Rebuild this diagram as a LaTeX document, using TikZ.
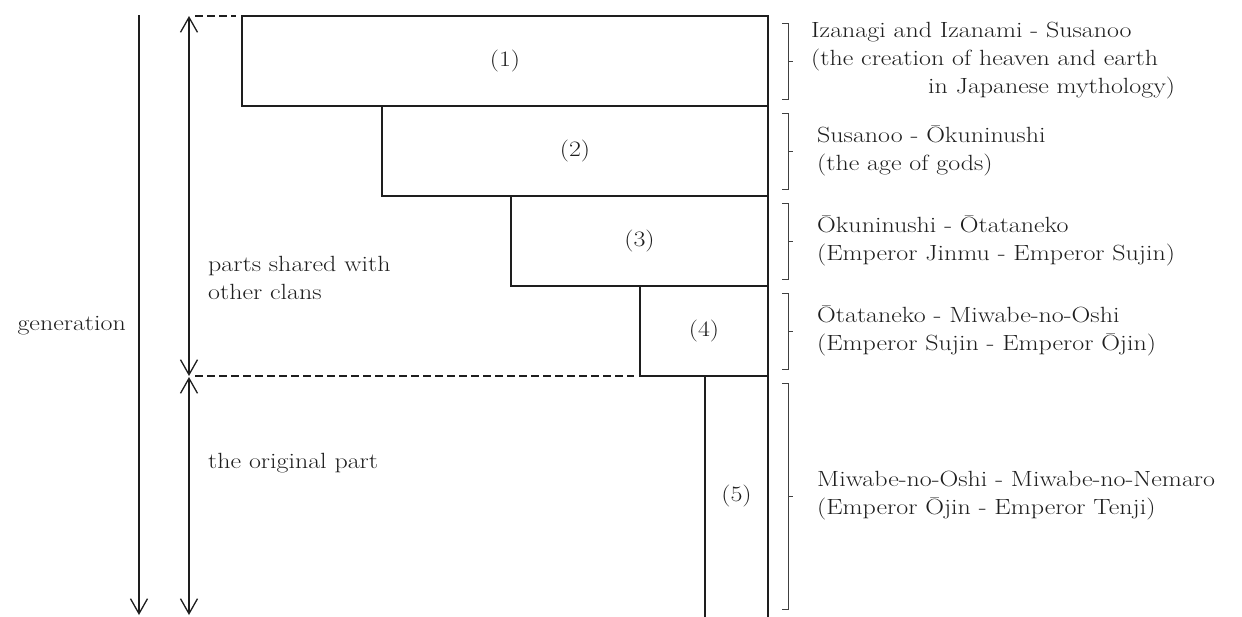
\documentclass[tikz,border=0pt]{standalone}
\usepackage{fontspec}
\setmainfont{Latin Modern Roman}[FakeStretch=1.18]
\usetikzlibrary{arrows.meta}
\newcommand\dgfont{\fontsize{22}{28}\selectfont}
\definecolor{ink}{HTML}{1E1E1E}
\begin{document}
\begin{tikzpicture}[x=1pt,y=-1pt,
  ln/.style={draw=ink,line width=1.3pt},
  brk/.style={draw=ink!85,line width=1pt},
  dsh/.style={draw=ink,line width=1.3pt,dash pattern=on 8pt off 4pt},
  blk/.style={ln,anchor=north west,inner sep=0pt,outer sep=0pt,font=\dgfont,text=ink},
  txt/.style={font=\dgfont,text=ink,inner sep=0pt,align=left},
  tip/.style={arrows={-Straight Barb[length=15pt,width=17pt]}},
  tips/.style={arrows={Straight Barb[length=15pt,width=17pt]-Straight Barb[length=15pt,width=17pt]}}
]
\clip (0,0) rectangle (1242,616);
\node[blk,minimum width=526pt,minimum height=90pt] (b1) at (242,16) {(1)};
\node[blk,minimum width=386pt,minimum height=90pt] (b2) at (382,106) {(2)};
\node[blk,minimum width=257pt,minimum height=90pt] (b3) at (511,196) {(3)};
\node[blk,minimum width=128pt,minimum height=90pt] (b4) at (640,286) {(4)};
\node[blk,draw=none,minimum width=63pt,minimum height=240pt] (b5) at (705,376) {(5)};
\draw[ln] ([yshift=-10pt]b5.south west) -- (b5.north west) -- (b5.north east) -- ([yshift=-10pt]b5.south east);
\foreach \b in {b1,b2,b3,b4,b5}{
  \draw[brk] ([xshift=14pt,yshift=-7pt]\b.north east) -- ++(6,0) -- ([xshift=20pt,yshift=7pt]\b.south east) -- ++(-6,0);
  \draw[brk] ([xshift=20pt]\b.east) -- ++(5,0);
}
\node[txt,anchor=west] (t1) at ([xshift=43pt]b1.east) {Izanagi and Izanami - Susanoo\\(the creation of heaven and earth\\\hspace*{117pt}in Japanese mythology)};
\node[txt,anchor=west] (t2) at ([xshift=49pt]b2.east) {Susanoo - Ōkuninushi\\(the age of gods)};
\node[txt,anchor=west] (t3) at ([xshift=49pt]b3.east) {Ōkuninushi - Ōtataneko\\(Emperor Jinmu - Emperor Sujin)};
\node[txt,anchor=west] (t4) at ([xshift=49pt]b4.east) {Ōtataneko - Miwabe-no-Oshi\\(Emperor Sujin - Emperor Ōjin)};
\node[txt,anchor=west] (t5) at ([xshift=49pt]b5.east) {Miwabe-no-Oshi - Miwabe-no-Nemaro\\(Emperor Ōjin - Emperor Tenji)};
\node[txt,anchor=east] (gen) at (126,326) {generation};
\node[txt,anchor=west] (shared) at (208,278) {parts shared with\\other clans};
\node[txt,anchor=west] (orig) at (208,463) {the original part};
\coordinate (g0) at (139,15); \coordinate (g1) at (139,615);
\coordinate (s0) at (189,16); \coordinate (s1) at (189,376);
\coordinate (o0) at (189,377); \coordinate (o1) at (189,615);
\draw[ln,tip] (g0) -- (g1);
\draw[ln,tips] (s0) -- (s1);
\draw[ln,tips] (o0) -- (o1);
\draw[dsh] ([xshift=-47pt]b1.north west) -- ([xshift=-6pt]b1.north west);
\draw[dsh] ([xshift=6pt]s1) -- ([xshift=-6pt]b4.south west);
\end{tikzpicture}
\end{document}
